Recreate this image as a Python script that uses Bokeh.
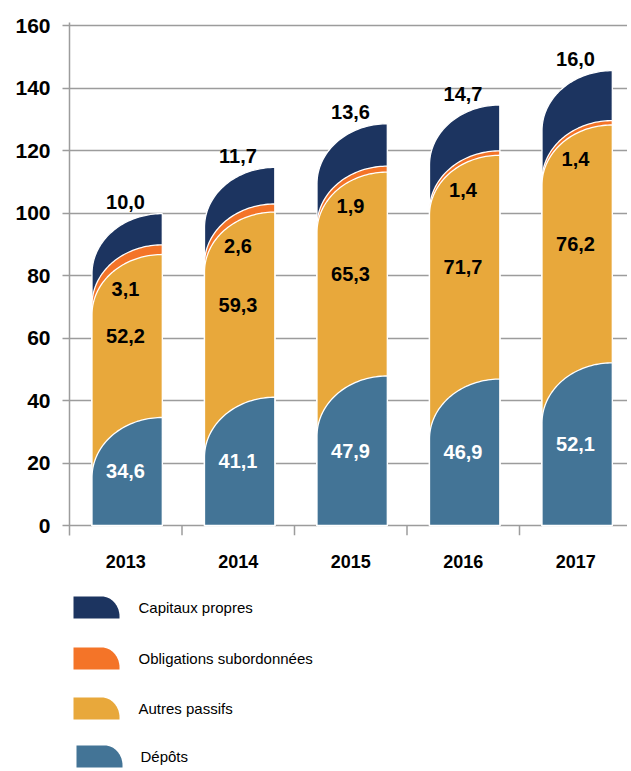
import numpy as np
from bokeh.plotting import figure
from bokeh.models import ColumnDataSource, Range1d, FixedTicker
from bokeh.layouts import column
from bokeh.core.properties import value
from bokeh.embed import file_html
from bokeh.resources import INLINE

# ---------------- data ----------------
years = ["2013", "2014", "2015", "2016", "2017"]
depots = [34.6, 41.1, 47.9, 46.9, 52.1]
autres_passifs = [52.2, 59.3, 65.3, 71.7, 76.2]
obligations = [3.1, 2.6, 1.9, 1.4, 1.4]
capitaux = [10.0, 11.7, 13.6, 14.7, 16.0]
series_names = ["Capitaux propres", "Obligations subordonnées", "Autres passifs", "Dépôts"]
y_ticks = [0, 20, 40, 60, 80, 100, 120, 140, 160]

# ---------------- style ----------------
C_CAP = "#1c3460"
C_OBL = "#f47428"
C_AUT = "#e8a83b"
C_DEP = "#437496"
GRID = "#9c9c9c"
FONT = "Liberation Sans"

W = 627
LEFT = 69
BAR_OFF = 0.2
BAR_W = 0.625
RY = 19.2          # vertical radius of the rounded corner (data units)
Y0, Y1 = -3.2, 161.12
X1 = (W - LEFT) / 112.5


def fmt(v):
    return f"{v:.1f}".replace(".", ",")


def rounded_top(x0, x1, top, ry, n=48):
    rx = x1 - x0
    cy = max(top - ry, 0.0)
    t = np.linspace(0, np.pi / 2, n)
    xs = [x0] + list(x1 - rx * np.cos(t)) + [x1]
    ys = [0.0] + list(cy + (top - cy) * np.sin(t)) + [0.0]
    return xs, ys


p = figure(width=W, height=585, x_range=Range1d(0, X1), y_range=Range1d(Y0, Y1),
           output_backend="svg", toolbar_location=None,
           min_border_left=LEFT, min_border_right=0, min_border_top=22, min_border_bottom=50)
p.outline_line_color = None
p.background_fill_color = "white"

# grid
p.xgrid.visible = False
p.ygrid.ticker = FixedTicker(ticks=y_ticks)
p.ygrid.grid_line_color = GRID
p.ygrid.grid_line_width = 1.5

# y axis
p.yaxis.ticker = FixedTicker(ticks=y_ticks)
p.yaxis.axis_line_color = GRID
p.yaxis.axis_line_width = 1.5
p.yaxis.major_tick_line_color = GRID
p.yaxis.major_tick_line_width = 1.5
p.yaxis.major_tick_out = 7
p.yaxis.major_tick_in = 0
p.yaxis.minor_tick_line_color = None
p.yaxis.major_label_standoff = 12
p.yaxis.major_label_text_font = FONT
p.yaxis.major_label_text_font_style = "bold"
p.yaxis.major_label_text_font_size = "21px"
p.yaxis.major_label_text_color = "black"

# x axis (labels only)
centers = [i + 0.5 for i in range(len(years))]
p.xaxis.ticker = FixedTicker(ticks=centers)
p.xaxis.major_label_overrides = {c: y for c, y in zip(centers, years)}
p.xaxis.axis_line_color = None
p.xaxis.major_tick_line_color = None
p.xaxis.minor_tick_line_color = None
p.xaxis.major_label_standoff = 13
p.xaxis.major_label_text_font = FONT
p.xaxis.major_label_text_font_style = "bold"
p.xaxis.major_label_text_font_size = "18px"
p.xaxis.major_label_text_color = "black"

# category tick marks below zero line
bounds = list(range(1, len(years)))
p.segment(x0=bounds, y0=[0] * len(bounds), x1=bounds, y1=[Y0] * len(bounds),
          line_color=GRID, line_width=1.5)

# stacked shapes, drawn back to front
dep_top = list(depots)
aut_top = [d + a for d, a in zip(depots, autres_passifs)]
obl_top = [t + o for t, o in zip(aut_top, obligations)]
cap_top = [t + c for t, c in zip(obl_top, capitaux)]

for tops, col in [(cap_top, C_CAP), (obl_top, C_OBL), (aut_top, C_AUT), (dep_top, C_DEP)]:
    xs, ys = [], []
    for i, top in enumerate(tops):
        bx, by = rounded_top(i + BAR_OFF, i + BAR_OFF + BAR_W, top, RY)
        xs.append(bx)
        ys.append(by)
    p.patches(xs="xs", ys="ys", source=ColumnDataSource(dict(xs=xs, ys=ys)),
              fill_color=col, line_color="white", line_width=1.3)

# value labels
bar_c = [i + BAR_OFF + BAR_W / 2 - 0.015 for i in range(len(years))]
label_sets = [
    ([t + 3.6 for t in cap_top], capitaux, "black"),
    ([t - 11.0 for t in aut_top], obligations, "black"),
    ([d + a / 2 for d, a in zip(depots, autres_passifs)], autres_passifs, "black"),
    ([d / 2 for d in depots], depots, "white"),
]
for ys_, vals, col in label_sets:
    src = ColumnDataSource(dict(x=bar_c, y=ys_, t=[fmt(v) for v in vals]))
    p.text(x="x", y="y", text="t", source=src, text_align="center", text_baseline="middle",
           text_font=value(FONT), text_font_style="bold", text_font_size="20px", text_color=col)

# ---------------- legend ----------------
LH = 184
leg = figure(width=W, height=LH, x_range=Range1d(LEFT, W), y_range=Range1d(585 + LH, 585),
             output_backend="svg", toolbar_location=None,
             x_axis_location=None, y_axis_location=None,
             min_border_left=LEFT, min_border_right=0, min_border_top=0, min_border_bottom=0)
leg.outline_line_color = None
leg.xgrid.visible = False
leg.ygrid.visible = False

leg_colors = [C_CAP, C_OBL, C_AUT, C_DEP]
row_top = [596, 647, 697, 745]
sx0 = [73, 73, 73, 76]
tx = [138, 138, 138, 140]
SW, SH, RX, RYL = 46, 22, 18, 20

lxs, lys = [], []
for x0, yt in zip(sx0, row_top):
    x1 = x0 + SW
    yb = yt + SH
    t = np.linspace(0, np.pi / 2, 30)
    cx, cy = x1 - RX, yt + RYL
    xs = [x0, x0] + list(cx + RX * np.sin(t)) + [x1]
    ys = [yb, yt] + list(cy - RYL * np.cos(t)) + [yb]
    lxs.append(xs)
    lys.append(ys)
leg.patches(xs="xs", ys="ys", source=ColumnDataSource(dict(xs=lxs, ys=lys, c=leg_colors)),
            fill_color="c", line_color=None)
leg.text(x="x", y="y", text="t",
         source=ColumnDataSource(dict(x=tx, y=[r + SH / 2 for r in row_top], t=series_names)),
         text_align="left", text_baseline="middle", text_font=value(FONT),
         text_font_size="15px", text_color="black")

layout = column(p, leg)
open("out.html", "w").write(file_html(layout, INLINE))
